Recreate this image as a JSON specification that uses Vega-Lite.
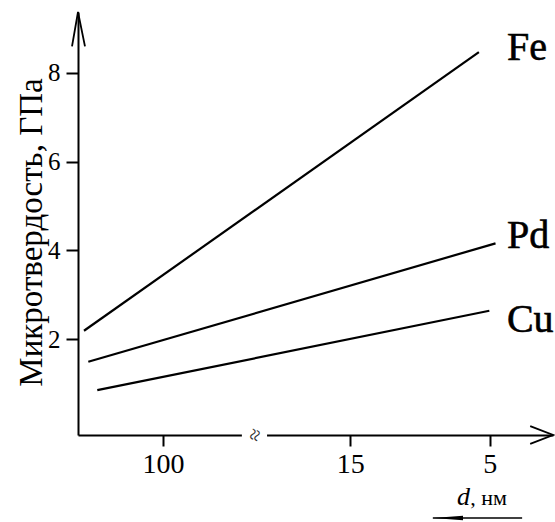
{
  "$schema": "https://vega.github.io/schema/vega-lite/v6.json",
  "width": 475,
  "height": 423,
  "autosize": {"type": "none"},
  "padding": {"left": 78, "top": 12, "right": 2, "bottom": 87},
  "background": "white",
  "config": {
    "view": {"stroke": null},
    "font": "Liberation Serif",
    "axis": {"labelFont": "Liberation Serif", "titleFont": "Liberation Serif"},
    "text": {"font": "Liberation Serif", "color": "black"}
  },
  "datasets": {
    "curves": [
      {"metal": "Fe", "u": 1.26, "hv": 2.19},
      {"metal": "Fe", "u": 84.4, "hv": 8.47},
      {"metal": "Pd", "u": 2.17, "hv": 1.49},
      {"metal": "Pd", "u": 87.9, "hv": 4.16},
      {"metal": "Cu", "u": 4.06, "hv": 0.85},
      {"metal": "Cu", "u": 86.6, "hv": 2.64}
    ],
    "labels": [
      {"metal": "Fe", "u": 90.3, "hv": 8.29},
      {"metal": "Pd", "u": 90.3, "hv": 4.06},
      {"metal": "Cu", "u": 90.3, "hv": 2.16}
    ],
    "arrows": [
      {"axis": "y", "k": 1, "u": -1.26, "hv": 8.6},
      {"axis": "y", "k": 2, "u": 0, "hv": 9.375},
      {"axis": "y", "k": 3, "u": 1.47, "hv": 8.6},
      {"axis": "x", "k": 1, "u": 95.2, "hv": 0.04},
      {"axis": "x", "k": 2, "u": 100, "hv": -0.16},
      {"axis": "x", "k": 3, "u": 95.2, "hv": -0.36}
    ]
  },
  "encoding": {
    "x": {
      "field": "u",
      "type": "quantitative",
      "scale": {"domain": [0, 100], "nice": false, "zero": false},
      "axis": {
        "title": null,
        "values": [17.9, 57.3, 86.7],
        "labelExpr": "datum.value < 30 ? '100' : (datum.value < 70 ? '15' : '5')",
        "grid": false,
        "domainColor": "black",
        "domainWidth": 2,
        "tickColor": "black",
        "tickWidth": 2,
        "tickSize": 11,
        "labelFont": "Liberation Serif",
        "labelFontSize": 28,
        "labelColor": "black",
        "labelPadding": 4,
        "labelFlush": false
      }
    },
    "y": {
      "field": "hv",
      "type": "quantitative",
      "scale": {"domain": [-0.16, 9.375], "nice": false, "zero": false},
      "axis": {
        "title": "Микротвердость, ГПа",
        "values": [2, 4, 6, 8],
        "grid": false,
        "domainColor": "black",
        "domainWidth": 2,
        "tickColor": "black",
        "tickWidth": 2,
        "tickSize": 12,
        "labelFont": "Liberation Serif",
        "labelFontSize": 25,
        "labelColor": "black",
        "labelPadding": 6,
        "labelFlush": false,
        "titleFont": "Liberation Serif",
        "titleFontSize": 33,
        "titleFontWeight": "normal",
        "titleColor": "black",
        "titleBaseline": "alphabetic",
        "titleX": -37,
        "titleY": 220
      }
    }
  },
  "layer": [
    {
      "data": {"name": "curves"},
      "mark": {"type": "line", "color": "black", "strokeWidth": 2.2},
      "encoding": {"detail": {"field": "metal"}}
    },
    {
      "data": {"name": "labels"},
      "mark": {"type": "text", "fontSize": 40, "fontWeight": "normal", "align": "left", "baseline": "alphabetic", "stroke": "black", "strokeWidth": 0.6},
      "encoding": {"text": {"field": "metal"}}
    },
    {
      "data": {"name": "arrows"},
      "mark": {"type": "line", "color": "black", "strokeWidth": 1.8},
      "encoding": {"detail": {"field": "axis"}, "order": {"field": "k"}}
    },
    {
      "data": {"values": [{"u": 34.5, "u2": 39.8, "hv": -0.05, "hv2": -0.28}]},
      "mark": {"type": "rect", "color": "white"},
      "encoding": {"x2": {"field": "u2"}, "y2": {"field": "hv2"}}
    },
    {
      "data": {"values": [{"u": 37.3, "hv": -0.16, "t": "≈"}]},
      "mark": {"type": "text", "fontSize": 22, "angle": 290, "align": "center", "baseline": "middle", "color": "#333"},
      "encoding": {"text": {"field": "t"}}
    },
    {
      "data": {"values": [{"u": 79.8, "hv": -1.74, "t": "d"}]},
      "mark": {"type": "text", "fontSize": 26, "fontStyle": "italic", "align": "left", "baseline": "alphabetic"},
      "encoding": {"text": {"field": "t"}}
    },
    {
      "data": {"values": [{"u": 82.6, "hv": -1.74, "t": ", нм"}]},
      "mark": {"type": "text", "fontSize": 22, "align": "left", "baseline": "alphabetic"},
      "encoding": {"text": {"field": "t"}}
    },
    {
      "data": {"values": [{"u": 74.7, "u2": 93.5, "hv": -2.03}]},
      "mark": {"type": "rule", "color": "black", "strokeWidth": 1.5},
      "encoding": {"x2": {"field": "u2"}}
    },
    {
      "data": {"values": [{"u": 77.9, "hv": -2.03}]},
      "mark": {"type": "point", "shape": "M-1,0 L1,-0.15 L1,0.15 Z", "filled": true, "color": "black", "opacity": 1, "size": 900},
      "encoding": {}
    }
  ]
}
